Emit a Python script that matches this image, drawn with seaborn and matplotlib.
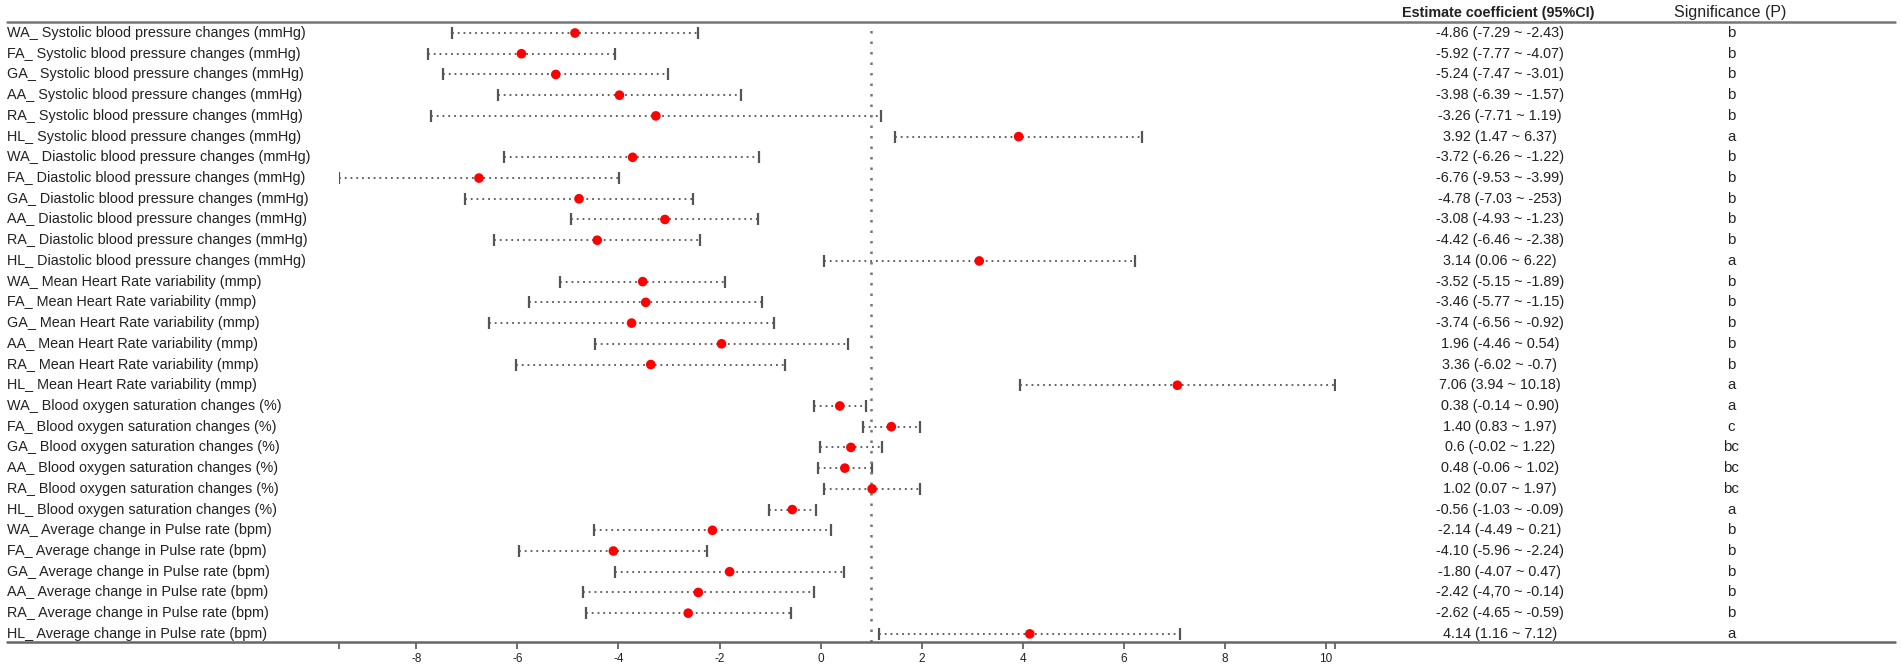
import matplotlib
matplotlib.use("Agg")
import matplotlib.pyplot as plt
import seaborn as sns
import numpy as np
from matplotlib.lines import Line2D
from matplotlib.transforms import blended_transform_factory

# Row labels, top to bottom
labels = [
    "WA_ Systolic blood pressure changes (mmHg)",
    "FA_ Systolic blood pressure changes (mmHg)",
    "GA_ Systolic blood pressure changes (mmHg)",
    "AA_ Systolic blood pressure changes (mmHg)",
    "RA_ Systolic blood pressure changes (mmHg)",
    "HL_ Systolic blood pressure changes (mmHg)",
    "WA_ Diastolic blood pressure changes (mmHg)",
    "FA_ Diastolic blood pressure changes (mmHg)",
    "GA_ Diastolic blood pressure changes (mmHg)",
    "AA_ Diastolic blood pressure changes (mmHg)",
    "RA_ Diastolic blood pressure changes (mmHg)",
    "HL_ Diastolic blood pressure changes (mmHg)",
    "WA_ Mean Heart Rate variability (mmp)",
    "FA_ Mean Heart Rate variability (mmp)",
    "GA_ Mean Heart Rate variability (mmp)",
    "AA_ Mean Heart Rate variability (mmp)",
    "RA_ Mean Heart Rate variability (mmp)",
    "HL_ Mean Heart Rate variability (mmp)",
    "WA_ Blood oxygen saturation changes (%)",
    "FA_ Blood oxygen saturation changes (%)",
    "GA_ Blood oxygen saturation changes (%)",
    "AA_ Blood oxygen saturation changes (%)",
    "RA_ Blood oxygen saturation changes (%)",
    "HL_ Blood oxygen saturation changes (%)",
    "WA_ Average change in Pulse rate (bpm)",
    "FA_ Average change in Pulse rate (bpm)",
    "GA_ Average change in Pulse rate (bpm)",
    "AA_ Average change in Pulse rate (bpm)",
    "RA_ Average change in Pulse rate (bpm)",
    "HL_ Average change in Pulse rate (bpm)",
]

# plotted estimates and 95% CI
est = [-4.86, -5.92, -5.24, -3.98, -3.26, 3.92,
       -3.72, -6.76, -4.78, -3.08, -4.42, 3.14,
       -3.52, -3.46, -3.74, -1.96, -3.36, 7.06,
       0.38, 1.40, 0.60, 0.48, 1.02, -0.56,
       -2.14, -4.10, -1.80, -2.42, -2.62, 4.14]
lower = [-7.29, -7.77, -7.47, -6.39, -7.71, 1.47,
         -6.26, -9.53, -7.03, -4.93, -6.46, 0.06,
         -5.15, -5.77, -6.56, -4.46, -6.02, 3.94,
         -0.14, 0.83, -0.02, -0.06, 0.07, -1.03,
         -4.49, -5.96, -4.07, -4.70, -4.65, 1.16]
upper = [-2.43, -4.07, -3.01, -1.57, 1.19, 6.37,
         -1.22, -3.99, -2.53, -1.23, -2.38, 6.22,
         -1.89, -1.15, -0.92, 0.54, -0.70, 10.18,
         0.90, 1.97, 1.22, 1.02, 1.97, -0.09,
         0.21, -2.24, 0.47, -0.14, -0.59, 7.12]

# text columns as printed
est_text = [
    "-4.86 (-7.29 ~ -2.43)", "-5.92 (-7.77 ~ -4.07)", "-5.24 (-7.47 ~ -3.01)",
    "-3.98 (-6.39 ~ -1.57)", "-3.26 (-7.71 ~ 1.19)", "3.92 (1.47 ~ 6.37)",
    "-3.72 (-6.26 ~ -1.22)", "-6.76 (-9.53 ~ -3.99)", "-4.78 (-7.03 ~ -253)",
    "-3.08 (-4.93 ~ -1.23)", "-4.42 (-6.46 ~ -2.38)", "3.14 (0.06 ~ 6.22)",
    "-3.52 (-5.15 ~ -1.89)", "-3.46 (-5.77 ~ -1.15)", "-3.74 (-6.56 ~ -0.92)",
    "1.96 (-4.46 ~ 0.54)", "3.36 (-6.02 ~ -0.7)", "7.06 (3.94 ~ 10.18)",
    "0.38 (-0.14 ~ 0.90)", "1.40 (0.83 ~ 1.97)", "0.6 (-0.02 ~ 1.22)",
    "0.48 (-0.06 ~ 1.02)", "1.02 (0.07 ~ 1.97)", "-0.56 (-1.03 ~ -0.09)",
    "-2.14 (-4.49 ~ 0.21)", "-4.10 (-5.96 ~ -2.24)", "-1.80 (-4.07 ~ 0.47)",
    "-2.42 (-4,70 ~ -0.14)", "-2.62 (-4.65 ~ -0.59)", "4.14 (1.16 ~ 7.12)",
]
sig = ["b", "b", "b", "b", "b", "a",
       "b", "b", "b", "b", "b", "a",
       "b", "b", "b", "b", "b", "a",
       "a", "c", "bc", "bc", "bc", "a",
       "b", "b", "b", "b", "b", "a"]

xticks = [-8, -6, -4, -2, 0, 2, 4, 6, 8, 10]

sns.set_style("white")
plt.rcParams['font.family'] = ['Liberation Sans', 'DejaVu Sans']
plt.rcParams['axes.unicode_minus'] = False

W, H = 1902, 668
fig = plt.figure(figsize=(W / 100, H / 100), dpi=100)

# axes placed so the data area matches the reference
top_px, bot_px = 22, 642
ax = fig.add_axes([339 / W, 1 - bot_px / H, (1335 - 339) / W, (bot_px - top_px) / H])
row0, step = 33, 20.72
rows = np.arange(len(labels))
ax.set_ylim((bot_px - row0) / step, (top_px - row0) / step)
xmin, xmax = min(lower), max(upper)
ax.set_xlim(xmin, xmax)

# dotted CI lines with caps
ax.hlines(rows, lower, upper, colors="#555555", linestyles=(0, (1, 2.2)), lw=1.3)
ax.plot(lower, rows, ls="none", marker="|", ms=8, mew=1.6, color="#555555")
ax.plot(upper, rows, ls="none", marker="|", ms=8, mew=1.6, color="#555555")
sns.scatterplot(x=est, y=rows, ax=ax, color="#ff0000", s=48, edgecolor="none", zorder=5)

# reference line
ax.axvline(1, color="#777777", ls=(0, (1, 3.2)), lw=1.8)

for s in ax.spines.values():
    s.set_visible(False)
ax.set_yticks([])
ax.set_xticks([xmin] + xticks + [xmax])
ax.set_xticklabels([""] + [str(t) for t in xticks] + [""], fontsize=8.5, color="#222222")
ax.tick_params(axis="x", direction="out", length=5, width=1.2, color="#555555", pad=3, bottom=True)
ax.set_xlabel("")
ax.set_ylabel("")

# horizontal rules
fig.add_artist(Line2D([7 / W, 1895 / W], [1 - top_px / H] * 2, color="#777777", lw=1.8))
fig.add_artist(Line2D([7 / W, 1895 / W], [1 - bot_px / H] * 2, color="#666666", lw=1.8))

# text columns
tr = blended_transform_factory(fig.transFigure, ax.transData)
for i in rows:
    ax.text(7 / W, i, labels[i], transform=tr, ha="left", va="center", fontsize=10.4, color="#222222")
    ax.text(1500 / W, i, est_text[i], transform=tr, ha="center", va="center", fontsize=10.4, color="#222222")
    ax.text(1731 / W, i, sig[i], transform=tr, ha="center", va="center", fontsize=10.8, color="#222222")

fig.text(1498 / W, 1 - 13 / H, "Estimate coefficient (95%CI)", ha="center", va="center",
         fontsize=10.4, fontweight="bold", color="#222222")
fig.text(1730 / W, 1 - 13 / H, "Significance (P)", ha="center", va="center",
         fontsize=11.5, color="#222222")

fig.savefig("out.png", dpi=100)
